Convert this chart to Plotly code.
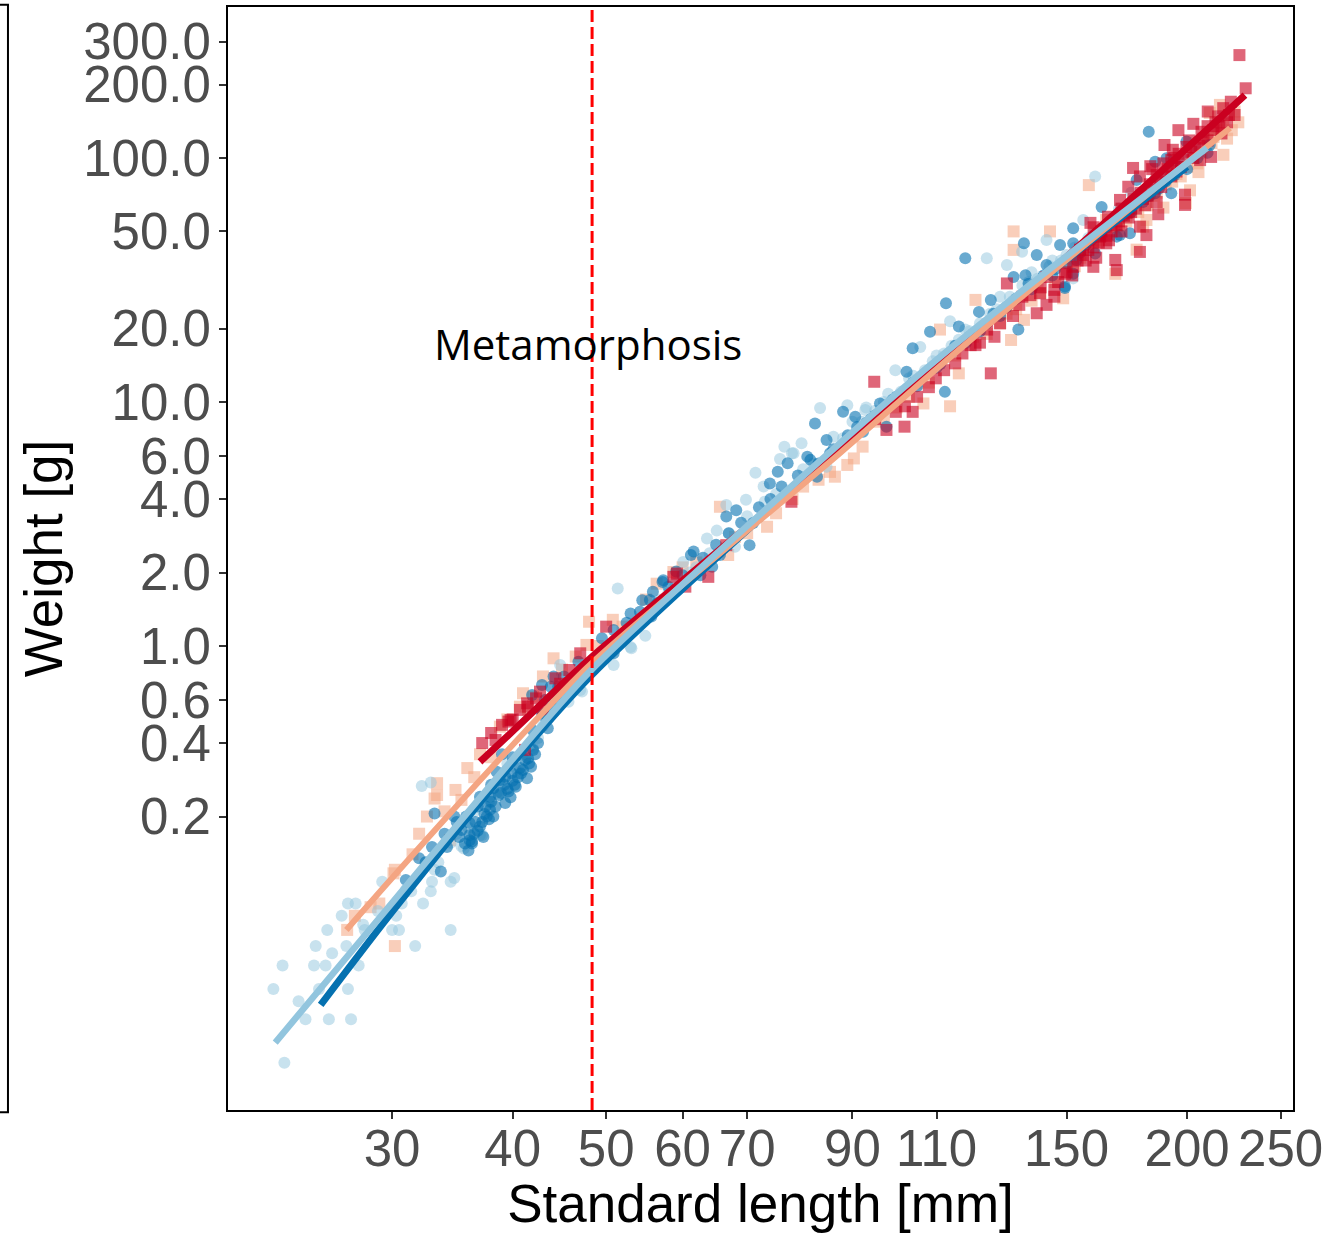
import math
import plotly.graph_objects as go

# ---------------- data (standard length [mm], weight [g]) ----------------
METAMORPHOSIS_LENGTH = 48.35
ANNOT_WEIGHT = 17.3

X_TICKS = [30, 40, 50, 60, 70, 90, 110, 150, 200, 250]
X_TICK_TEXT = ["30", "40", "50", "60", "70", "90", "110", "150", "200", "250"]
Y_TICKS = [0.2, 0.4, 0.6, 1.0, 2.0, 4.0, 6.0, 10.0, 20.0, 50.0, 100.0, 200.0, 300.0]
Y_TICK_TEXT = ["0.2", "0.4", "0.6", "1.0", "2.0", "4.0", "6.0", "10.0", "20.0", "50.0", "100.0", "200.0", "300.0"]

X_RANGE = [20.28, 257.5]
Y_RANGE = [0.01254, 415.6]

LIGHT_BLUE_PTS = [
    (23.2, 0.0196), (22.6, 0.0393), (23.1, 0.049), (24.4, 0.0295), (25.8, 0.0295), (27.2, 0.0295),
    (24.9, 0.049), (25.6, 0.049), (27.7, 0.049), (27.0, 0.0393), (25.2, 0.0393), (25.0, 0.0589),
    (26.9, 0.0589), (31.7, 0.0589), (25.7, 0.0686), (28.1, 0.0686), (30.0, 0.0686), (30.5, 0.0686),
    (34.5, 0.0686), (26.6, 0.0784), (30.3, 0.0784), (27.0, 0.088), (27.5, 0.088), (30.7, 0.088),
    (32.3, 0.088), (29.3, 0.108), (31.4, 0.0987), (32.9, 0.0987), (34.5, 0.108), (33.0, 0.108),
    (32.2, 0.267), (32.9, 0.276), (44.8, 0.836), (47.0, 0.66), (35.6, 0.148), (37.2, 0.168),
    (34.5, 0.156), (33.2, 0.121), (34.8, 0.112), (51.4, 1.72), (54.9, 1.10), (53.0, 0.99),
    (50.9, 0.836), (47.2, 0.65), (45.7, 0.591), (37.0, 0.168), (35.4, 0.151), (41.7, 0.387),
    (71.4, 5.13), (75.7, 5.84), (77.9, 6.16), (53.1, 0.978), (65.1, 2.97), (63.6, 2.76),
    (66.6, 3.78), (60.1, 2.21), (69.8, 3.97), (68.0, 2.55), (79.7, 6.78), (84.6, 5.43),
    (72.8, 4.5), (83.3, 9.44), (124.0, 38.8), (130.1, 36.4), (134.9, 41.3), (99.7, 13.5),
    (88.9, 9.7), (92.8, 9.28), (78.2, 6.16), (76.5, 6.56), (113.6, 21.4), (117.8, 19.8),
    (105.8, 16.8), (152.4, 32.1), (160.6, 83.9), (156.1, 55.7), (143.0, 46.1), (38.5, 0.25),
    (40.5, 0.30), (42.5, 0.42), (39.5, 0.33), (43.5, 0.5), (36.5, 0.21), (41.0, 0.36),
    (56.0, 1.45), (58.0, 1.65), (61.0, 2.0), (170.0, 60.0), (182.0, 75.0), (190.0, 88.0),
    (200.0, 100.0), (175.0, 72.0), (145.0, 38.0), (138.0, 34.0), (128.0, 27.0), (86.0, 7.2),
    (92.0, 8.3), (97.0, 10.0), (103.0, 12.5), (110.0, 15.5), (120.0, 19.0), (127.0, 24.0),
    (135.0, 30.0), (148.0, 38.0), (158.0, 47.0), (166.0, 55.0),
    (24.0, 0.035), (26.0, 0.055), (28.0, 0.072), (29.0, 0.082), (31.0, 0.1), (33.5, 0.13),
    (35.0, 0.17), (36.0, 0.18), (37.8, 0.23), (39.0, 0.28), (40.2, 0.32), (42.0, 0.38),
    (43.0, 0.47), (44.0, 0.55), (46.0, 0.7), (49.0, 0.85), (50.0, 0.95), (52.0, 1.1),
    (57.0, 1.55), (59.0, 1.8), (62.0, 2.1), (64.0, 2.4), (67.0, 2.9), (70.0, 3.4),
    (73.0, 3.9), (75.0, 4.2), (80.0, 5.3), (82.0, 5.6), (88.0, 7.1), (90.0, 8.3),
    (95.0, 9.2), (101.0, 11.0), (107.0, 13.5), (112.0, 15.8), (116.0, 18.0), (122.0, 21.0),
    (132.0, 26.0), (140.0, 32.0), (150.0, 40.0), (163.0, 50.0), (178.0, 68.0), (188.0, 78.0),
    (205.0, 108.0),
    (93.0, 9.5), (98.0, 10.8), (104.0, 12.8), (109.0, 14.7), (114.0, 17.0), (119.0, 19.5),
    (125.0, 23.0), (131.0, 27.0), (137.0, 31.0), (144.0, 36.0), (153.0, 43.0), (160.0, 49.0),
    (170.0, 62.0), (185.0, 80.0), (196.0, 95.0),
]

DARK_BLUE_PTS = [
    (42.9, 0.692), (44.1, 0.749), (46.8, 0.862), (41.5, 0.347), (41.4, 0.287), (40.3, 0.265),
    (39.6, 0.253), (39.3, 0.227), (38.8, 0.282), (38.2, 0.261), (40.7, 0.316), (39.9, 0.301),
    (37.9, 0.213), (37.6, 0.2), (37.0, 0.182), (36.1, 0.188), (36.1, 0.160), (35.4, 0.176),
    (36.3, 0.158), (37.3, 0.165), (33.2, 0.206), (39.3, 0.291), (38.5, 0.305), (37.0, 0.241),
    (37.9, 0.241), (33.7, 0.119), (41.2, 0.341), (42.0, 0.375), (42.9, 0.53), (41.9, 0.63),
    (36.1, 0.168), (36.3, 0.155), (49.5, 1.075), (50.9, 1.163), (53.0, 1.36), (54.5, 1.54),
    (55.9, 1.67), (57.2, 1.83), (59.1, 2.02), (61.2, 2.36), (55.7, 1.32), (52.2, 1.075),
    (50.9, 0.933), (52.5, 1.246), (54.2, 1.38), (55.5, 1.543), (57.3, 1.86), (58.7, 1.67),
    (61.6, 2.44), (62.6, 1.95), (64.4, 2.11), (66.6, 3.39), (68.2, 3.6), (70.4, 2.59),
    (73.9, 4.63), (75.3, 5.18), (77.1, 5.61), (80.8, 5.97), (82.7, 4.94), (85.3, 6.16),
    (71.0, 3.19), (65.6, 2.36), (82.3, 8.17), (84.6, 6.99), (88.0, 9.11), (90.6, 8.69),
    (96.1, 9.86), (102.4, 13.3), (103.9, 16.6), (108.3, 19.4), (112.2, 11.0), (112.5, 25.4),
    (116.0, 20.4), (121.7, 23.4), (125.2, 26.2), (133.7, 19.8), (132.2, 32.5), (136.0, 33.1),
    (139.7, 40.0), (117.8, 38.8), (135.5, 44.7), (143.0, 36.4), (149.4, 29.3), (152.4, 44.7),
    (97.6, 7.92), (92.3, 7.55), (81.4, 5.79), (182.5, 128.0), (163.1, 63.0), (170.4, 48.3),
    (174.5, 49.1), (185.3, 96.5), (185.3, 71.7), (192.6, 71.7), (199.7, 116.9), (211.1, 113.0),
    (147.7, 44.0), (152.4, 51.5), (153.6, 38.2), (152.4, 33.5), (160.6, 40.6), (149.4, 29.7),
    (169.1, 47.6), (177.3, 81.2), (190.4, 99.8), (95.0, 8.8), (98.0, 9.6), (105.0, 11.6),
    (108.0, 13.5), (118.0, 17.5), (122.0, 19.5), (128.0, 22.5), (145.0, 33.0), (150.0, 37.0),
    (157.0, 44.0), (165.0, 52.0), (175.0, 60.0), (190.0, 80.0), (197.0, 92.0), (44.0, 0.56),
    (45.0, 0.63), (43.0, 0.52), (40.0, 0.35), (38.0, 0.27), (36.8, 0.22), (35.0, 0.19),
    (34.2, 0.15), (32.0, 0.135), (31.0, 0.11), (39.0, 0.36), (42.0, 0.45), (47.5, 0.75),
    (46.0, 0.7),
    (34.0, 0.17), (34.8, 0.2), (35.8, 0.2), (36.6, 0.19), (37.5, 0.22), (38.0, 0.23),
    (38.7, 0.245), (39.2, 0.27), (40.0, 0.28), (40.8, 0.3), (41.8, 0.32), (42.5, 0.4),
    (43.5, 0.46), (44.5, 0.6), (45.5, 0.66), (36.0, 0.145), (37.2, 0.19), (38.2, 0.2),
    (39.8, 0.24), (35.2, 0.165), (33.0, 0.15), (32.5, 0.13), (36.8, 0.175), (43.8, 0.68),
    (45.2, 0.75), (48.5, 0.8), (46.5, 0.74),
    (50.0, 0.98), (51.5, 1.05), (53.5, 1.2), (56.5, 1.5), (58.0, 1.75), (60.0, 1.95),
    (63.0, 2.3), (65.0, 2.6), (67.0, 2.9), (69.0, 3.2), (72.0, 3.7), (74.0, 4.0),
    (76.0, 4.5), (79.0, 5.0), (83.0, 5.6), (86.0, 6.4), (89.0, 7.3), (93.0, 8.2),
    (100.0, 10.5), (104.0, 12.0), (111.0, 14.3), (114.0, 16.0), (119.0, 18.5), (124.0, 21.0),
    (130.0, 24.5), (138.0, 29.0), (142.0, 33.0), (155.0, 41.0), (162.0, 48.0), (168.0, 56.0),
    (180.0, 66.0), (187.0, 75.0), (194.0, 85.0), (205.0, 100.0), (200.0, 90.0), (210.0, 105.0),
    (37.4, 0.205), (38.4, 0.22), (39.5, 0.26), (40.5, 0.29), (41.0, 0.31), (41.6, 0.33),
    (42.2, 0.36), (36.5, 0.17), (35.7, 0.155), (38.9, 0.25), (40.2, 0.27), (37.8, 0.195),
    (43.2, 0.6), (44.6, 0.68), (91.0, 7.9), (94.0, 8.5), (99.0, 10.2), (106.0, 12.5),
    (110.0, 13.8), (115.0, 17.0), (120.0, 19.0), (126.0, 23.0), (133.0, 26.5), (137.0, 30.5),
    (146.0, 35.0), (153.0, 40.0), (159.0, 46.0), (172.0, 58.0), (183.0, 70.0),
]

RED_PTS = [
    (40.7, 0.547), (41.4, 0.582), (42.3, 0.61), (39.8, 0.497), (39.0, 0.475), (38.4, 0.412),
    (37.2, 0.4), (41.2, 0.375), (45.8, 0.797), (47.0, 0.933), (42.7, 0.65), (39.6, 0.49),
    (41.5, 0.564), (44.3, 0.737), (58.7, 1.92), (60.4, 1.75), (50.0, 1.2), (77.8, 3.9),
    (59.2, 1.98), (63.8, 1.92), (66.6, 2.59), (94.8, 12.1), (125.2, 13.1), (102.0, 9.6),
    (103.9, 9.11), (109.8, 12.5), (108.0, 11.5), (115.0, 14.4), (120.7, 17.1), (126.3, 18.5),
    (130.1, 30.6), (139.7, 23.1), (143.0, 25.0), (145.7, 27.0), (149.4, 33.5), (152.4, 35.8),
    (99.8, 9.11), (101.9, 7.92), (97.6, 7.68), (137.6, 27.4), (119.3, 17.1), (124.1, 19.8),
    (226.6, 264.0), (230.0, 193.0), (210.1, 155.0), (215.4, 148.0), (217.1, 126.0), (203.0, 138.0),
    (195.9, 130.0), (199.7, 111.0), (193.3, 108.0), (189.5, 113.0), (192.6, 84.0), (199.0, 70.7),
    (199.0, 64.2), (178.7, 41.2), (181.5, 48.3), (187.5, 80.2), (183.2, 92.5), (178.7, 84.0),
    (173.8, 76.2), (175.8, 91.0), (170.4, 67.3), (165.6, 57.4), (162.5, 47.6), (158.8, 54.2),
    (154.9, 42.1), (159.9, 35.8), (169.1, 34.7), (168.5, 38.2), (178.7, 52.3), (186.7, 58.8),
    (211.8, 101.0), (206.3, 98.0), (143.0, 32.5), (145.7, 28.8), (140.8, 27.9), (173.1, 59.6),
    (164.9, 44.7), (192.6, 98.0), (135.0, 27.0), (150.0, 34.0), (156.0, 40.0), (162.0, 45.0),
    (167.0, 50.0), (172.0, 58.0), (177.0, 62.0), (182.0, 70.0), (188.0, 76.0), (195.0, 88.0),
    (203.0, 100.0), (208.0, 120.0), (213.0, 130.0), (220.0, 140.0), (196.0, 104.0), (184.0, 90.0),
    (95.0, 8.5), (105.0, 10.5), (112.0, 13.5), (117.0, 15.8), (122.0, 17.5), (128.0, 21.0),
    (132.0, 22.5), (134.0, 25.0), (141.0, 29.5), (147.0, 31.0), (152.0, 33.0), (154.0, 38.0),
    (158.0, 42.0), (161.0, 39.0), (163.0, 50.0), (166.0, 46.0), (169.0, 53.0), (171.0, 62.0),
    (174.0, 57.0), (176.0, 68.0), (179.0, 72.0), (181.0, 64.0), (183.0, 78.0), (186.0, 85.0),
    (189.0, 95.0), (191.0, 90.0), (194.0, 100.0), (197.0, 92.0), (201.0, 118.0), (204.0, 110.0),
    (207.0, 128.0), (210.0, 135.0), (214.0, 140.0), (218.0, 160.0), (222.0, 170.0), (224.0, 150.0),
    (43.0, 0.55), (44.8, 0.7), (40.0, 0.5), (38.0, 0.44),
    (157.0, 38.0), (160.0, 43.0), (165.0, 48.0), (170.0, 55.0), (175.0, 60.0), (180.0, 68.0),
    (185.0, 74.0), (190.0, 84.0), (193.0, 92.0), (198.0, 98.0), (202.0, 106.0), (206.0, 112.0),
    (210.0, 118.0), (216.0, 135.0), (221.0, 150.0), (171.0, 50.0), (186.0, 66.0), (160.0, 52.0),
]

ORANGE_PTS = [
    (30.2, 0.0589), (26.95, 0.0686), (27.45, 0.0784), (29.1, 0.088), (30.1, 0.117), (44.1, 0.89),
    (41.0, 0.64), (40.7, 0.564), (38.8, 0.467), (35.9, 0.316), (33.4, 0.274), (33.4, 0.245),
    (34.9, 0.257), (32.6, 0.2), (35.4, 0.234), (34.45, 0.16), (30.2, 0.121), (33.2, 0.237),
    (47.7, 1.01), (46.5, 0.905), (50.8, 1.28), (56.4, 1.8), (42.0, 0.62), (65.6, 3.72),
    (58.7, 2.01), (73.4, 3.08), (86.3, 4.94), (66.9, 2.36), (48.0, 1.257), (85.3, 5.17),
    (80.0, 4.5), (113.6, 9.6), (132.2, 50.0), (144.2, 50.0), (132.2, 42.0), (110.9, 19.8),
    (120.7, 26.2), (116.0, 13.1), (106.6, 9.86), (104.9, 11.9), (90.3, 5.87), (88.9, 5.52),
    (92.2, 6.56), (131.4, 17.95), (135.5, 21.7), (148.8, 26.6), (158.2, 77.4), (216.3, 165.0),
    (222.5, 130.0), (218.1, 103.0), (211.1, 153.0), (189.0, 62.6), (177.3, 42.1), (168.5, 33.5),
    (180.1, 52.3), (201.4, 73.7), (199.4, 65.3), (164.9, 55.7), (181.5, 55.7), (205.5, 87.5),
    (95.0, 8.3), (100.0, 9.5), (120.0, 18.5), (128.0, 21.0), (138.0, 26.0), (153.0, 36.0),
    (160.0, 45.0), (173.0, 55.0), (185.0, 70.0), (193.0, 80.0), (205.0, 95.0), (212.0, 115.0),
    (226.0, 140.0), (60.0, 2.1), (70.0, 2.9), (78.0, 4.0), (37.0, 0.36), (39.5, 0.5),
    (43.0, 0.75), (31.5, 0.14), (28.5, 0.085),
    (32.0, 0.17), (34.0, 0.21), (36.5, 0.29), (38.0, 0.35), (41.5, 0.55), (45.0, 0.8),
    (49.0, 1.0), (52.0, 1.2), (55.0, 1.55), (62.0, 2.2), (68.0, 2.8), (75.0, 3.5),
    (83.0, 4.8), (97.0, 8.6), (103.0, 10.5), (108.0, 12.0), (115.0, 15.5), (124.0, 19.0),
    (133.0, 24.0), (141.0, 28.0), (146.0, 31.0), (150.0, 37.0), (156.0, 42.0), (163.0, 48.0),
    (168.0, 52.0), (175.0, 62.0), (182.0, 64.0), (190.0, 78.0), (197.0, 84.0), (203.0, 100.0),
    (209.0, 120.0), (215.0, 130.0), (220.0, 120.0), (224.0, 155.0),
    (155.0, 39.0), (162.0, 46.0), (170.0, 53.0), (178.0, 60.0), (186.0, 72.0), (195.0, 86.0),
    (200.0, 92.0), (207.0, 105.0), (213.0, 122.0), (218.0, 138.0), (140.0, 30.0), (130.0, 23.0),
]

# fitted curves
DARK_BLUE_FIT_L = [25.3, 30.0, 40.0, 48.3, 87.4, 110.0, 140.8, 200.0]
DARK_BLUE_FIT_W = [0.0338, 0.0813, 0.33, 0.76, 6.55, 14.4, 31.5, 92.0]
LIGHT_BLUE_FIT_L = [22.7, 30.0, 40.0, 48.3, 87.4, 110.0, 140.8, 209.7]
LIGHT_BLUE_FIT_W = [0.0237, 0.0885, 0.344, 0.80, 6.79, 14.9, 32.6, 109.9]
ORANGE_FIT_L = [26.9, 30.0, 40.0, 48.3, 87.4, 110.0, 140.8, 221.6]
ORANGE_FIT_W = [0.0686, 0.112, 0.393, 0.85, 6.18, 13.65, 31.1, 132.7]
RED_FIT_L = [37.0, 40.0, 48.3, 87.4, 110.0, 140.8, 229.6]
RED_FIT_W = [0.335, 0.447, 0.90, 6.35, 13.9, 31.5, 181.0]

# ---------------- styling ----------------
C_DB = "#0571B0"
C_LB = "#92C5DE"
C_OR = "#F4A582"
C_RD = "#CA0020"
AXIS_FONT = "Liberation Sans, Arial, sans-serif"

fig = go.Figure()


def add_points(pts, color, symbol, opacity):
    fig.add_trace(go.Scatter(
        x=[p[0] for p in pts], y=[p[1] for p in pts], mode="markers",
        marker=dict(color=color, symbol=symbol, size=12, opacity=opacity, line=dict(width=0)),
        showlegend=False, hoverinfo="skip"))


def add_line(xs, ys, color, width):
    fig.add_trace(go.Scatter(
        x=xs, y=ys, mode="lines", line=dict(color=color, width=width, shape="spline", smoothing=0.8),
        showlegend=False, hoverinfo="skip"))


add_points(ORANGE_PTS, C_OR, "square", 0.55)
add_points(LIGHT_BLUE_PTS, C_LB, "circle", 0.5)
add_points(DARK_BLUE_PTS, C_DB, "circle", 0.6)
add_points(RED_PTS, C_RD, "square", 0.6)

add_line(DARK_BLUE_FIT_L, DARK_BLUE_FIT_W, C_DB, 7)
add_line(RED_FIT_L, RED_FIT_W, C_RD, 7)
add_line(ORANGE_FIT_L, ORANGE_FIT_W, C_OR, 6)
add_line(LIGHT_BLUE_FIT_L, LIGHT_BLUE_FIT_W, C_LB, 6.5)

axis_common = dict(
    type="log", showgrid=False, zeroline=False, showline=True, linecolor="black", linewidth=2,
    mirror=True, ticks="outside", ticklen=7, tickwidth=1.5, tickcolor="#333333", automargin=False,
    tickfont=dict(family=AXIS_FONT, size=51, color="#4D4D4D"),
)

fig.update_layout(
    width=1325, height=1233,
    margin=dict(l=228, r=32, t=7, b=123),
    paper_bgcolor="white", plot_bgcolor="white",
    xaxis=dict(
        range=[math.log10(X_RANGE[0]), math.log10(X_RANGE[1])],
        tickvals=X_TICKS, ticktext=X_TICK_TEXT, ticklabelstandoff=-14,
        title=dict(text="Standard length [mm]", font=dict(family=AXIS_FONT, size=53, color="black"), standoff=12),
        **axis_common),
    yaxis=dict(
        range=[math.log10(Y_RANGE[0]), math.log10(Y_RANGE[1])],
        tickvals=Y_TICKS, ticktext=Y_TICK_TEXT, ticklabelstandoff=-2,
        title=dict(text="Weight [g]", font=dict(family=AXIS_FONT, size=53, color="black"), standoff=4),
        **axis_common),
    shapes=[
        dict(type="line", xref="x", yref="paper", x0=METAMORPHOSIS_LENGTH, x1=METAMORPHOSIS_LENGTH,
             y0=0, y1=1, line=dict(color="#FF0000", width=3, dash="12px,5px")),
        dict(type="rect", xref="paper", yref="paper", x0=-0.5, x1=-0.2066, y0=-0.002, y1=1.002,
             line=dict(color="black", width=2), fillcolor="rgba(0,0,0,0)"),
    ],
    annotations=[
        dict(text="Metamorphosis", x=math.log10(METAMORPHOSIS_LENGTH), y=math.log10(ANNOT_WEIGHT),
             xref="x", yref="y", showarrow=False, xshift=-4,
             font=dict(family="Open Sans, sans-serif", size=42, color="black")),
    ],
)

fig.write_html("out.html")
